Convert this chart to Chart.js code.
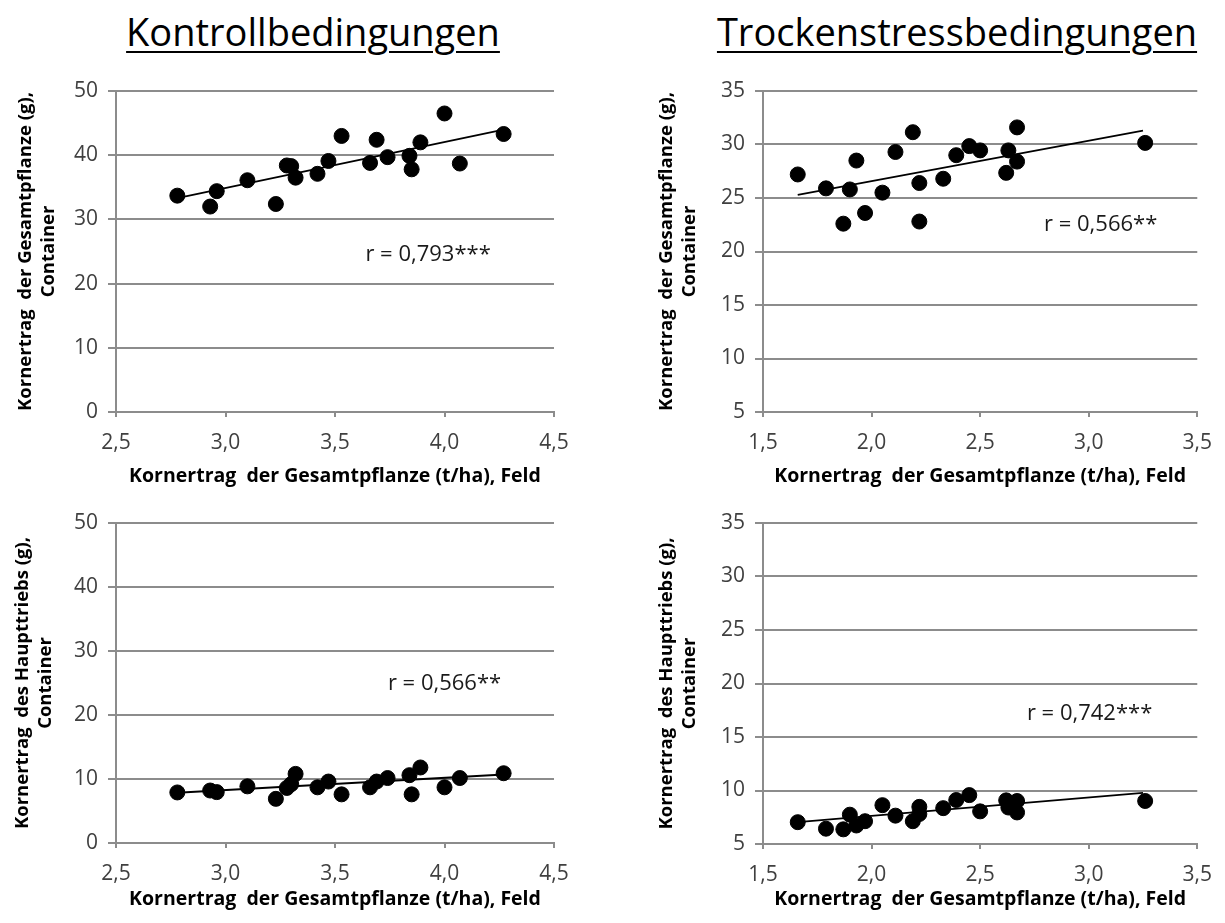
<!DOCTYPE html>
<html lang="de">
<head>
<meta charset="utf-8">
<title>Kornertrag Feld vs. Container</title>
<script src="https://cdn.jsdelivr.net/npm/chart.js@4.4.1/dist/chart.umd.min.js"></script>
<style>
  body {
    margin: 0;
    width: 1225px;
    height: 923px;
    position: relative;
    overflow: hidden;
    background: #fff;
    font-family: 'Open Sans', sans-serif;
  }
  .heading {
    position: absolute;
    top: 12px;
    font-size: 38px;
    line-height: 38px;
    color: #000;
    white-space: nowrap;
    text-decoration: underline;
    text-decoration-thickness: 2px;
    text-underline-offset: 5px;
    transform: translateX(-50%);
  }
  canvas { position: absolute; }
</style>
</head>
<body>
<div class="heading" style="left:313px">Kontrollbedingungen</div>
<div class="heading" style="left:957px">Trockenstressbedingungen</div>

<canvas id="kontrolle-gesamt"></canvas>
<canvas id="trocken-gesamt"></canvas>
<canvas id="kontrolle-haupt"></canvas>
<canvas id="trocken-haupt"></canvas>

<script>
// Feldertrag (t/ha) der Sorten, Kontrolle
const feldKontrolle = [2.78, 2.93, 2.96, 3.10, 3.23, 3.28, 3.30, 3.32, 3.42, 3.47,
  3.53, 3.66, 3.69, 3.74, 3.84, 3.85, 3.89, 4.00, 4.07, 4.27];
const gesamtKontrolle = [33.7, 32.0, 34.4, 36.1, 32.4, 38.4, 38.3, 36.5, 37.1, 39.1,
  43.0, 38.8, 42.4, 39.7, 39.9, 37.8, 42.0, 46.5, 38.7, 43.3];
const hauptKontrolle = [7.9, 8.2, 7.95, 8.85, 6.9, 8.6, 9.2, 10.8, 8.7, 9.6,
  7.6, 8.7, 9.6, 10.15, 10.6, 7.6, 11.8, 8.7, 10.15, 10.9];

// Feldertrag (t/ha) der Sorten, Trockenstress
const feldTrocken = [1.66, 1.79, 1.87, 1.90, 1.93, 1.97, 2.05, 2.11, 2.19, 2.22,
  2.22, 2.33, 2.39, 2.45, 2.50, 2.63, 2.62, 2.67, 2.67, 3.26];
const gesamtTrocken = [27.2, 25.9, 22.6, 25.8, 28.5, 23.6, 25.5, 29.3, 31.15, 26.4,
  22.8, 26.8, 29.0, 29.85, 29.45, 29.45, 27.35, 31.6, 28.4, 30.15];
const hauptTrocken = [7.04, 6.43, 6.37, 7.74, 6.73, 7.13, 8.63, 7.65, 7.13, 8.47,
  7.8, 8.35, 9.11, 9.57, 8.05, 8.41, 9.08, 7.95, 9.02, 9.02];

// Trendlinien (Anfangs- und Endpunkt)
const trendKontrolleX = [2.78, 4.27];
const trendGesamtKontrolleY = [33.3, 44.0];
const trendHauptKontrolleY = [7.85, 10.7];
const trendTrockenX = [1.66, 3.25];
const trendGesamtTrockenY = [25.3, 31.3];
const trendHauptTrockenY = [7.04, 9.78];

// Achsenbereiche
const xKontrolle = [2.5, 4.5];
const xTrocken = [1.5, 3.5];
const yGesamtKontrolle = [0, 50, 10];
const yHauptKontrolle = [0, 50, 10];
const yGesamtTrocken = [5, 35, 5];
const yHauptTrocken = [5, 35, 5];

const xTitle = 'Kornertrag  der Gesamtpflanze (t/ha), Feld';
const yTitleGesamt = ['Kornertrag  der Gesamtpflanze (g),', 'Container'];
const yTitleHaupt = ['Kornertrag  des Haupttriebs (g),', 'Container'];

const rGesamtKontrolle = 'r = 0,793***';
const rGesamtTrocken = 'r = 0,566**';
const rHauptKontrolle = 'r = 0,566**';
const rHauptTrocken = 'r = 0,742***';

const GRID = '#8c8c8c';
const TICK_COLOR = '#404040';
const FONT = "'Open Sans', sans-serif";

function pairs(xs, ys) {
  return xs.map((x, i) => ({ x: x, y: ys[i] }));
}

function comma(value, digits) {
  return Number(value).toFixed(digits).replace('.', ',');
}

// writes the correlation coefficient at a data position
const rLabel = {
  id: 'rLabel',
  afterDatasetsDraw(chart, args, opts) {
    const { ctx, scales } = chart;
    ctx.save();
    ctx.font = '22px ' + FONT;
    ctx.fillStyle = '#1a1a1a';
    ctx.textAlign = 'center';
    ctx.textBaseline = 'middle';
    ctx.fillText(opts.text, scales.x.getPixelForValue(opts.x), scales.y.getPixelForValue(opts.y));
    ctx.restore();
  },
};

function makePanel(cfg) {
  const canvas = document.getElementById(cfg.id);
  canvas.width = cfg.box.width;
  canvas.height = cfg.box.height;
  canvas.style.left = cfg.box.left + 'px';
  canvas.style.top = cfg.box.top + 'px';

  const area = cfg.area;
  const yAxisWidth = area.left - cfg.box.left;
  const xAxisHeight = cfg.box.top + cfg.box.height - area.bottom;

  return new Chart(canvas, {
    type: 'scatter',
    data: {
      datasets: [
        {
          type: 'line',
          data: pairs(cfg.trendX, cfg.trendY),
          borderColor: '#000',
          borderWidth: 1.8,
          pointRadius: 0,
          fill: false,
        },
        {
          data: pairs(cfg.xs, cfg.ys),
          backgroundColor: '#000',
          borderColor: '#000',
          pointRadius: 7.5,
          pointHoverRadius: 7.5,
        },
      ],
    },
    options: {
      responsive: false,
      animation: false,
      events: [],
      layout: {
        padding: {
          left: 0,
          top: area.top - cfg.box.top,
          right: cfg.box.left + cfg.box.width - area.right,
          bottom: 0,
        },
      },
      plugins: {
        legend: { display: false },
        tooltip: { enabled: false },
        rLabel: cfg.label,
      },
      scales: {
        x: {
          type: 'linear',
          min: cfg.xRange[0],
          max: cfg.xRange[1],
          afterFit: (scale) => { scale.height = xAxisHeight; },
          ticks: {
            stepSize: 0.5,
            color: TICK_COLOR,
            font: { family: FONT, size: 21 },
            padding: 13,
            maxRotation: 0,
            callback: (v) => comma(v, 1),
          },
          grid: {
            drawOnChartArea: false,
            drawTicks: true,
            tickLength: 5,
            color: GRID,
            lineWidth: 2,
          },
          border: { color: GRID, width: 2 },
          title: {
            display: true,
            text: xTitle,
            color: '#000',
            font: { family: FONT, size: 19.5, weight: 'bold', lineHeight: 1.2 },
            padding: { top: 0, bottom: 12 },
          },
        },
        y: {
          type: 'linear',
          min: cfg.yRange[0],
          max: cfg.yRange[1],
          afterFit: (scale) => { scale.width = yAxisWidth; },
          ticks: {
            stepSize: cfg.yRange[2],
            color: TICK_COLOR,
            font: { family: FONT, size: 21 },
            padding: 10,
          },
          grid: {
            drawTicks: true,
            tickLength: 8,
            color: GRID,
            lineWidth: 2,
          },
          border: { color: GRID, width: 2 },
          title: {
            display: true,
            text: cfg.yTitle,
            color: '#000',
            font: { family: FONT, size: 18.5, weight: 'bold', lineHeight: 1.2 },
            padding: { top: cfg.yTitlePad, bottom: 0 },
          },
        },
      },
    },
    plugins: [rLabel],
  });
}

makePanel({
  id: 'kontrolle-gesamt',
  box: { left: 0, top: 60, width: 610, height: 440 },
  area: { left: 116, top: 91, right: 554, bottom: 412 },
  xs: feldKontrolle, ys: gesamtKontrolle,
  trendX: trendKontrolleX, trendY: trendGesamtKontrolleY,
  xRange: xKontrolle, yRange: yGesamtKontrolle,
  yTitle: yTitleGesamt, yTitlePad: 15,
  label: { text: rGesamtKontrolle, x: 3.925, y: 24.5 },
});

makePanel({
  id: 'trocken-gesamt',
  box: { left: 612, top: 60, width: 613, height: 440 },
  area: { left: 763, top: 91, right: 1201, bottom: 412 },
  xs: feldTrocken, ys: gesamtTrocken,
  trendX: trendTrockenX, trendY: trendGesamtTrockenY,
  xRange: xTrocken, yRange: yGesamtTrocken,
  yTitle: yTitleGesamt, yTitlePad: 44,
  label: { text: rGesamtTrocken, x: 3.055, y: 22.5 },
});

makePanel({
  id: 'kontrolle-haupt',
  box: { left: 0, top: 490, width: 610, height: 433 },
  area: { left: 116, top: 523, right: 554, bottom: 843 },
  xs: feldKontrolle, ys: hauptKontrolle,
  trendX: trendKontrolleX, trendY: trendHauptKontrolleY,
  xRange: xKontrolle, yRange: yHauptKontrolle,
  yTitle: yTitleHaupt, yTitlePad: 12,
  label: { text: rHauptKontrolle, x: 4.0, y: 24.9 },
});

makePanel({
  id: 'trocken-haupt',
  box: { left: 612, top: 490, width: 613, height: 433 },
  area: { left: 763, top: 523, right: 1201, bottom: 844 },
  xs: feldTrocken, ys: hauptTrocken,
  trendX: trendTrockenX, trendY: trendHauptTrockenY,
  xRange: xTrocken, yRange: yHauptTrocken,
  yTitle: yTitleHaupt, yTitlePad: 44,
  label: { text: rHauptTrocken, x: 3.004, y: 17.2 },
});
</script>
</body>
</html>
